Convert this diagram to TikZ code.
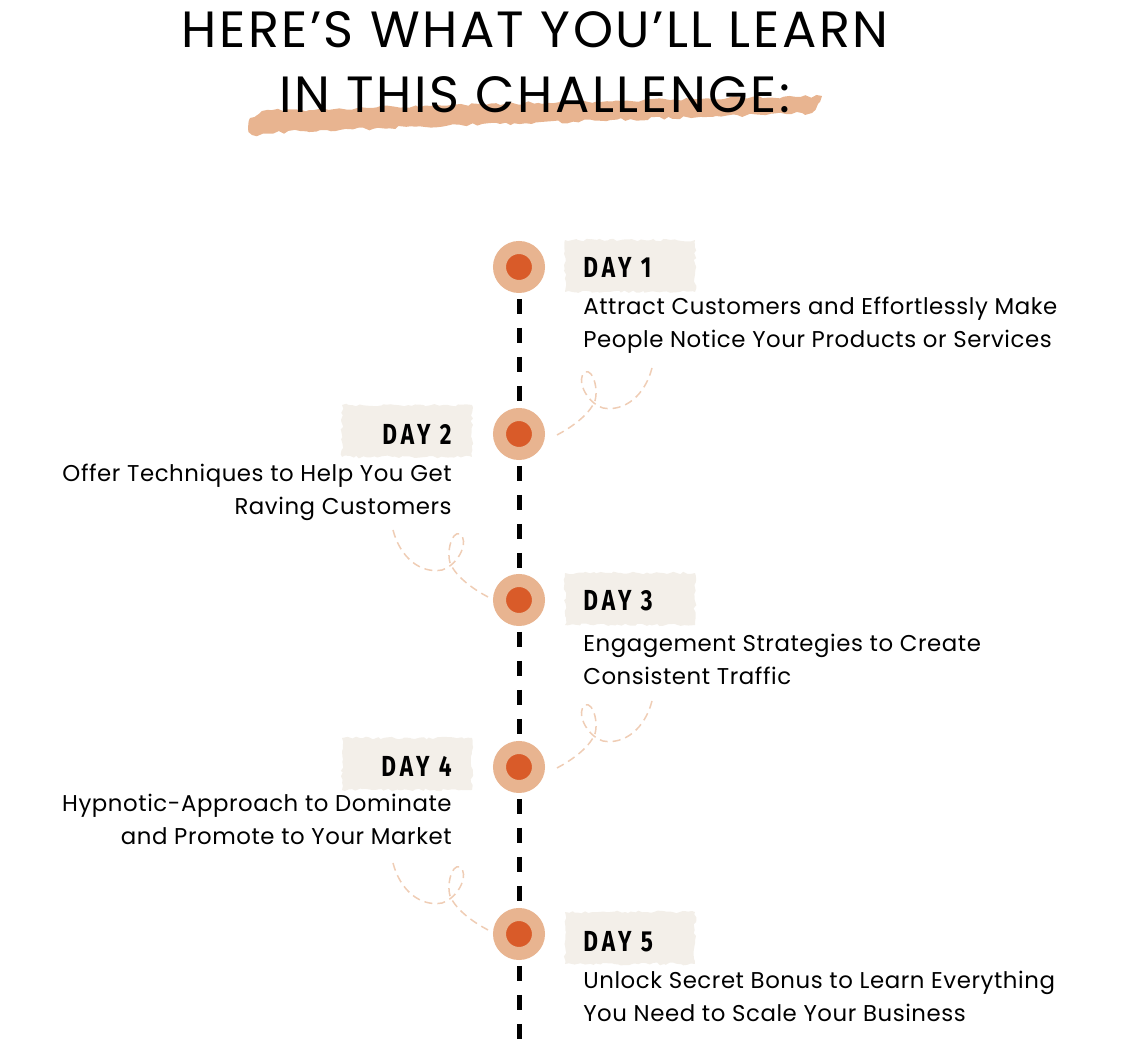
\documentclass[tikz,border=0pt]{standalone}
\usepackage{fontspec}
\setmainfont{Poppins}
\newfontfamily\dayfont[FakeStretch=0.78,LetterSpace=14]{Fira Sans}
\usetikzlibrary{positioning, decorations.pathmorphing}

\definecolor{peach}{HTML}{E8B490}
\definecolor{rust}{HTML}{D95B29}
\definecolor{paper}{HTML}{F3EFE9}
\definecolor{loopcol}{HTML}{EFCDB5}

\begin{document}
\begin{tikzpicture}[
    x=0.02cm, y=-0.02cm,
    every node/.style={inner sep=0pt},
    title/.style={font=\addfontfeature{LetterSpace=5}\fontsize{29}{34}\selectfont},
    dot/.style={circle, fill=rust, draw=peach, line width=0.26cm, minimum size=0.78cm},
    timeline/.style={line width=0.1cm, dash pattern=on 0.3cm off 0.28cm, dash phase=0.46cm},
    paperbg/.style={fill=paper, minimum width=2.6cm, minimum height=1.04cm,
                    decorate, decoration={random steps, segment length=2pt, amplitude=0.8pt}},
    daylabel/.style={font=\dayfont\bfseries\fontsize{16.5}{20}\selectfont},
    desc/.style={font=\addfontfeature{LetterSpace=2.5}\fontsize{13}{18.8}\selectfont},
    loopline/.style={loopcol, line width=0.03cm, dash pattern=on 0.16cm off 0.1cm}
  ]
  \useasboundingbox (0,0) rectangle (1134,1053);

  % title
  \fill[peach, decorate, decoration={random steps, segment length=3pt, amplitude=1pt}]
    (250,118) -- (262,111) -- (480,104) -- (700,99) -- (822,96) -- (818,104)
    -- (812,113) -- (700,117) -- (500,124) -- (300,131) -- (252,135) -- (248,128) -- cycle;
  \node[title, anchor=base] (title1) at (535,48) {HERE’S WHAT YOU’LL LEARN};
  \node[title, anchor=base] (title2) at (535,113) {IN THIS CHALLENGE:};

  % label backgrounds
  \node[paperbg] (bg1) at (630,266) {};
  \node[paperbg] (bg2) at (407,431) {};
  \node[paperbg] (bg3) at (630,599) {};
  \node[paperbg] (bg4) at (407,764) {};
  \node[paperbg] (bg5) at (630,938) {};

  % timeline
  \node[dot] (d1) at (519,267) {};
  \node[dot] (d2) at (519,434) {};
  \node[dot] (d3) at (519,600) {};
  \node[dot] (d4) at (519,767) {};
  \node[dot] (d5) at (519,934) {};
  \coordinate (tend) at (519,1040);
  \draw[timeline] (d1) -- (d2);
  \draw[timeline] (d2) -- (d3);
  \draw[timeline] (d3) -- (d4);
  \draw[timeline] (d4) -- (d5);
  \draw[timeline] (d5) -- (tend);

  % days
  \node[daylabel, anchor=west] (day1) at (583,267) {DAY 1};
  \node[daylabel, anchor=east] (day2) at (452,434) {DAY 2};
  \node[daylabel, anchor=west] (day3) at (583,601) {DAY 3};
  \node[daylabel, anchor=east] (day4) at (452,766) {DAY 4};
  \node[daylabel, anchor=west] (day5) at (583,942) {DAY 5};

  \node[desc, align=left, anchor=north west] (txt1) at (583,297)
    {Attract Customers and Effortlessly Make\\People Notice Your Products or Services};
  \node[desc, align=right, anchor=north east] (txt2) at (452,464)
    {Offer Techniques to Help You Get\\Raving Customers};
  \node[desc, align=left, anchor=north west] (txt3) at (583,634)
    {Engagement Strategies to Create\\Consistent Traffic};
  \node[desc, align=right, anchor=north east] (txt4) at (452,794)
    {Hypnotic-Approach to Dominate\\and Promote to Your Market};
  \node[desc, align=left, anchor=north west] (txt5) at (583,971)
    {Unlock Secret Bonus to Learn Everything\\You Need to Scale Your Business};

  % loops
  \foreach \dy in {0,333} {
    \draw[loopline, shift={(0,\dy)}] (652,368) .. controls (645,395) and (625,412) .. (603,408)
      .. controls (585,402) and (576,378) .. (585,372) .. controls (594,368) and (600,395) .. (593,405)
      .. controls (585,418) and (570,428) .. (557,435);
    \draw[loopline, shift={(1045,\dy+162)}, xscale=-1] (652,368) .. controls (645,395) and (625,412) .. (603,408)
      .. controls (585,402) and (576,378) .. (585,372) .. controls (594,368) and (600,395) .. (593,405)
      .. controls (585,418) and (570,428) .. (557,435);
  }
\end{tikzpicture}
\end{document}
